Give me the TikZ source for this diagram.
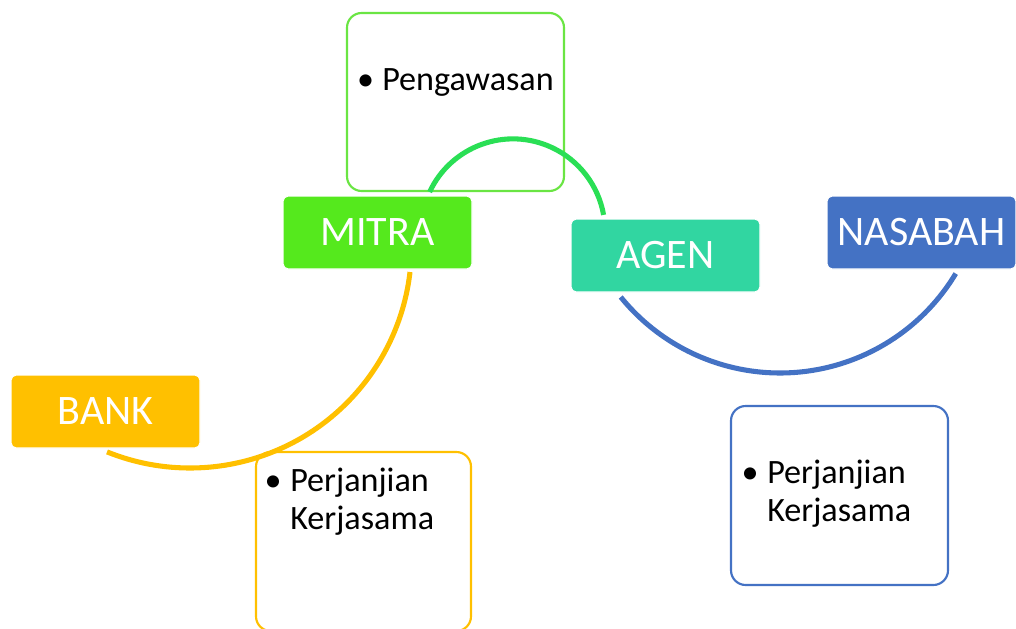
\documentclass[tikz,border=0pt]{standalone}
\usepackage{fontspec}
\setmainfont{Carlito}
\definecolor{mitragreen}{HTML}{55E91D}
\definecolor{pengline}{HTML}{6AE543}
\definecolor{arcgreen}{HTML}{2ADF55}
\definecolor{agenteal}{HTML}{31D6A1}
\definecolor{nasblue}{HTML}{4472C4}
\definecolor{bankgold}{HTML}{FFC000}
\tikzset{
  mainbox/.style={rectangle, rounded corners=4pt, draw=white, line width=0.8pt,
    minimum width=141.75pt, minimum height=54.75pt, inner sep=0pt,
    text=white, font=\fontsize{31.5}{36}\selectfont},
  infobox/.style={rectangle, rounded corners=11pt, fill=white, line width=1.6pt, inner sep=0pt},
  bullettext/.style={inner sep=0pt, font=\fontsize{25.6}{28.8}\selectfont, anchor=base west},
  bulletdot/.style={inner sep=0pt, font=\fontsize{25.6}{28.8}\selectfont, anchor=base},
  arcline/.style={line width=3.8pt}
}
\begin{document}
\begin{tikzpicture}[x=0.75pt,y=-0.75pt]
\useasboundingbox (0,0) rectangle (1016,628);
% information boxes
\node[infobox, draw=pengline, minimum width=162.75pt, minimum height=133.5pt] (pengbox) at (455.5,102) {};
\node[infobox, draw=bankgold, minimum width=161.25pt, minimum height=134.25pt] (ybox) at (363.5,541.5) {};
\node[infobox, draw=nasblue, minimum width=162.75pt, minimum height=134.25pt] (bbox) at (839.5,495.5) {};
% texts
\node[bulletdot] (dot1) at (365.5,90) {•};
\node[bullettext] (peng) at (382,90) {Pengawasan};
\node[bulletdot] (dot2) at (273,491) {•};
\node[bullettext] (pk1) at (290,491) {\begin{tabular}[t]{@{}l@{}}Perjanjian\\Kerjasama\end{tabular}};
\node[bulletdot] (dot3) at (750,483) {•};
\node[bullettext] (pk2) at (767,483) {\begin{tabular}[t]{@{}l@{}}Perjanjian\\Kerjasama\end{tabular}};
% arcs
\coordinate (g1) at (429.6,192);
\draw[arcline, draw=arcgreen] (g1) arc[start angle=155, end angle=10, radius=69pt] coordinate (g2);
\coordinate (y1) at (410,272);
\draw[arcline, draw=bankgold] (y1) arc[start angle=-6.6, end angle=-112, radius=166.1pt] coordinate (y2);
\coordinate (b1) at (620.7,297);
\draw[arcline, draw=nasblue] (b1) arc[start angle=-141, end angle=-31, radius=153.75pt] coordinate (b2);
% main nodes
\node[mainbox, fill=mitragreen] (mitra) at (377.5,232.5) {MITRA};
\node[mainbox, fill=agenteal] (agen) at (665.5,255.5) {AGEN};
\node[mainbox, fill=nasblue] (nasabah) at (921.5,232.5) {NASABAH};
\node[mainbox, fill=bankgold] (bank) at (105.5,411.5) {BANK};
\end{tikzpicture}
\end{document}
